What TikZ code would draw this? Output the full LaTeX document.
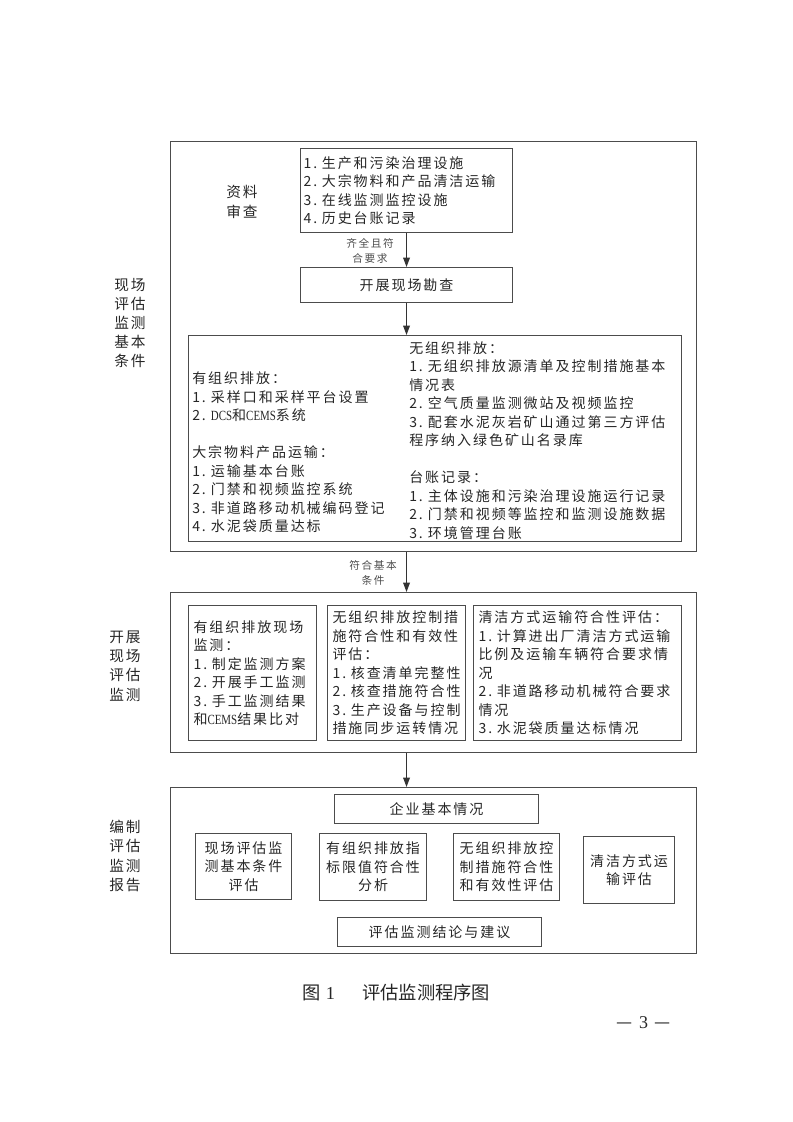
\documentclass[tikz,border=0pt]{standalone}
\usepackage{fontspec}
\usetikzlibrary{arrows.meta}
\usetikzlibrary{positioning}
\setmainfont{Noto Sans CJK SC}
\newfontfamily\cjk{Noto Sans CJK SC}[LetterSpace=14]
\newfontfamily\cjkklein{Noto Sans CJK SC}[LetterSpace=15]
\newfontfamily\cjkgross{Noto Sans CJK SC}[LetterSpace=12]
\newfontfamily\lat{Liberation Serif}[FakeStretch=0.78]
\newcommand{\en}[1]{{\lat #1}}

\begin{document}
\begin{tikzpicture}[x=0.75pt,y=-0.75pt,
  rahmen/.style={draw=black!70, line width=0.9pt, anchor=north west, inner sep=0pt, minimum width=394.5pt},
  kasten/.style={draw=black!70, line width=0.8pt, anchor=north west, inner ysep=0pt, text=black!85,
    font=\cjk\fontsize{10.5}{13.9}\selectfont},
  spalte/.style={anchor=west, inner sep=0pt, align=left, text=black!85,
    font=\cjk\fontsize{10.5}{13.9}\selectfont},
  seitentext/.style={align=center, inner sep=0pt, text=black!85,
    font=\cjkgross\fontsize{11}{14.4}\selectfont},
  hinweis/.style={align=center, inner sep=0pt, text=black!70,
    font=\cjkklein\fontsize{8}{11.2}\selectfont},
  pfeil/.style={draw=black!80, line width=0.9pt, -{Triangle[length=7pt,width=5pt]}}]

  \useasboundingbox (0,0) rectangle (793,1122);

  % Rahmen
  \node[rahmen, minimum height=307.5pt] (rahmenA) at (170,141) {};
  \node[rahmen, minimum height=120pt] (rahmenB) at (170,592) {};
  \node[rahmen, minimum height=124.5pt] (rahmenC) at (170,787) {};

  % Seitenbeschriftungen
  \node[seitentext] (stufeA) at (130,323) {现场\\评估\\监测\\基本\\条件};
  \node[seitentext] (stufeB) at (125,666) {开展\\现场\\评估\\监测};
  \node[seitentext] (stufeC) at (125,856) {编制\\评估\\监测\\报告};

  % Teil 1
  \node[seitentext] (pruefung) at (242,202) {资料\\审查};
  \node[kasten, align=left, inner xsep=2.25pt, text width=154.5pt, minimum height=63pt] (liste) at (300,148)
    {1.~生产和污染治理设施\\2.~大宗物料和产品清洁运输\\3.~在线监测监控设施\\4.~历史台账记录};
  \node[kasten, align=center, minimum width=159pt, minimum height=26.25pt] (kanzha) at (300,267) {开展现场勘查};
  \node[kasten, minimum width=369.75pt, minimum height=154.5pt] (bedingungen) at (188,335) {};
  \node[spalte] (linkespalte) at (192,452.5)
    {有组织排放：\\1.~采样口和采样平台设置\\2.~\en{DCS}和\en{CEMS}系统\\[13.9pt]
     大宗物料产品运输：\\1.~运输基本台账\\2.~门禁和视频监控系统\\3.~非道路移动机械编码登记\\4.~水泥袋质量达标};
  \node[spalte] (rechtespalte) at (409,440.5)
    {无组织排放：\\1.~无组织排放源清单及控制措施基本\\情况表\\2.~空气质量监测微站及视频监控\\
     3.~配套水泥灰岩矿山通过第三方评估\\程序纳入绿色矿山名录库\\[13.9pt]
     台账记录：\\1.~主体设施和污染治理设施运行记录\\2.~门禁和视频等监控和监测设施数据\\3.~环境管理台账};

  % Teil 2
  \node[kasten, align=left, inner xsep=3.75pt, text width=88.5pt, minimum height=101.25pt] (messung) at (188,605)
    {有组织排放现场\\监测：\\1.~制定监测方案\\2.~开展手工监测\\3.~手工监测结果\\和\en{CEMS}结果比对};
  \node[kasten, align=left, inner xsep=3.75pt, text width=96pt, minimum height=101.25pt] (diffus) at (327,605)
    {无组织排放控制措\\施符合性和有效性\\评估：\\1.~核查清单完整性\\2.~核查措施符合性\\3.~生产设备与控制\\措施同步运转情况};
  \node[kasten, align=left, inner xsep=3.75pt, text width=148.5pt, minimum height=101.25pt] (transport) at (473,605)
    {清洁方式运输符合性评估：\\1.~计算进出厂清洁方式运输\\比例及运输车辆符合要求情\\况\\2.~非道路移动机械符合要求\\情况\\3.~水泥袋质量达标情况};

  % Teil 3
  \node[kasten, align=center, minimum width=153pt, minimum height=21.75pt] (basis) at (334,794) {企业基本情况};
  \node[kasten, align=center, minimum width=72pt, minimum height=49.5pt] (berichtA) at (195,833) {现场评估监\\测基本条件\\评估};
  \node[kasten, align=center, minimum width=80.25pt, minimum height=50.25pt] (berichtB) at (319,833) {有组织排放指\\标限值符合性\\分析};
  \node[kasten, align=center, minimum width=79.5pt, minimum height=50.25pt] (berichtC) at (453,833) {无组织排放控\\制措施符合性\\和有效性评估};
  \node[kasten, align=center, minimum width=68.25pt, minimum height=50.25pt] (berichtD) at (583,836) {清洁方式运\\输评估};
  \node[kasten, align=center, minimum width=153pt, minimum height=21.75pt] (fazit) at (337,917) {评估监测结论与建议};

  % Pfeile
  \draw[pfeil] (liste.south) -- (kanzha.north);
  \draw[pfeil] (kanzha.south) -- (kanzha.south |- bedingungen.north);
  \draw[pfeil] (kanzha.south |- rahmenA.south) -- (kanzha.south |- rahmenB.north);
  \draw[pfeil] (kanzha.south |- rahmenB.south) -- (kanzha.south |- rahmenC.north);
  \node[hinweis] (vollstaendig) at (370,250.5) {齐全且符\\合要求};
  \node[hinweis] (erfuellt) at (373,572.5) {符合基本\\条件};

  % Beschriftung
  \node[anchor=west, inner sep=0pt, text=black!85, font=\fontsize{13.7}{16}\selectfont] (bildnr) at (302,993)
    {图\hspace{4pt}{\fontspec{Liberation Serif}1}};
  \node[anchor=west, inner sep=0pt, text=black!85, font=\fontsize{13.7}{16}\selectfont] (bildtitel) at (362,993) {评估监测程序图};
  \node[inner sep=0pt, text=black!85, font=\fontsize{13.5}{16}\selectfont] (seite) at (643.5,1023)
    {—\hspace{5pt}{\fontspec{Liberation Serif}3}\hspace{5pt}—};
\end{tikzpicture}
\end{document}
